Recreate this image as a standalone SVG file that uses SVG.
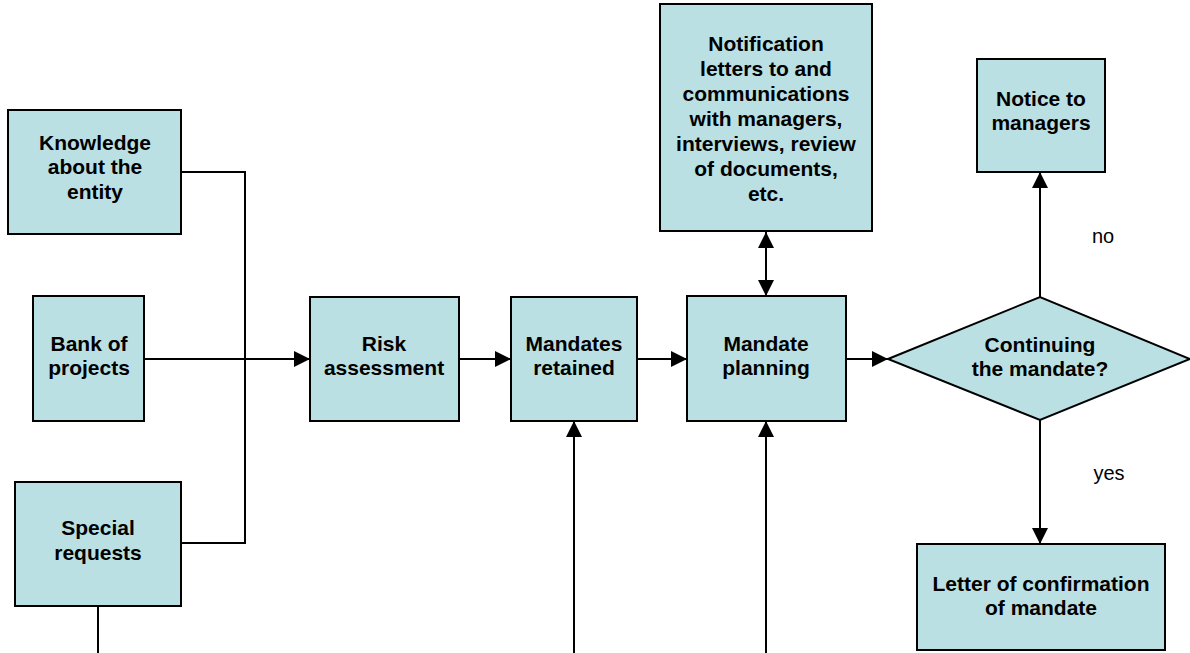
<svg xmlns="http://www.w3.org/2000/svg" width="1190" height="653" viewBox="0 0 1190 653">
<style>
.box{fill:#BBE0E3;stroke:#000;stroke-width:2}
.t{font-family:"Liberation Sans",Arial,sans-serif;font-weight:bold;font-size:21px;text-anchor:middle;fill:#000}
.l{font-family:"Liberation Sans",Arial,sans-serif;font-size:20px;text-anchor:middle;fill:#000}
.c{fill:none;stroke:#000;stroke-width:2}
</style>
<defs>
<marker id="ah" markerWidth="10" markerHeight="10" refX="9" refY="5" orient="auto" markerUnits="userSpaceOnUse" viewBox="0 0 10 10">
<path d="M0,0 L10,5 L0,10 z" fill="#000" transform="scale(1)"/>
</marker>
<marker id="ahb" markerWidth="16" markerHeight="16" refX="16" refY="8" orient="auto-start-reverse" markerUnits="userSpaceOnUse" viewBox="0 0 16 16">
<path d="M0,0 L16,8 L0,16 z" fill="#000"/>
</marker>
</defs>
<rect width="1190" height="653" fill="#fff"/>
<g id="connectors">
<polyline class="c" points="181,172 245,172 245,543 181,543"/>
<line class="c" x1="144" y1="359" x2="310" y2="359" marker-end="url(#ahb)"/>
<line class="c" x1="98" y1="606" x2="98" y2="653"/>
<line class="c" x1="459" y1="359" x2="511" y2="359" marker-end="url(#ahb)"/>
<line class="c" x1="637" y1="359" x2="687" y2="359" marker-end="url(#ahb)"/>
<line class="c" x1="846" y1="359" x2="888" y2="359" marker-end="url(#ahb)"/>
<line class="c" x1="766" y1="232" x2="766" y2="296" marker-start="url(#ahb)" marker-end="url(#ahb)"/>
<line class="c" x1="574" y1="653" x2="574" y2="421" marker-end="url(#ahb)"/>
<line class="c" x1="766" y1="653" x2="766" y2="421" marker-end="url(#ahb)"/>
<line class="c" x1="1040" y1="297" x2="1040" y2="172" marker-end="url(#ahb)"/>
<line class="c" x1="1040" y1="420" x2="1040" y2="544" marker-end="url(#ahb)"/>
<text class="l" x="1103" y="243">no</text>
<text class="l" x="1109" y="480">yes</text>
</g>
<g id="knowledge">
<rect class="box" x="8" y="110" width="173" height="124"/>
<text class="t" x="95" y="150">Knowledge</text>
<text class="t" x="95" y="174">about the</text>
<text class="t" x="95" y="199">entity</text>
</g>
<g id="bank">
<rect class="box" x="33" y="296" width="111" height="125"/>
<text class="t" x="89" y="351">Bank of</text>
<text class="t" x="89" y="375">projects</text>
</g>
<g id="special">
<rect class="box" x="15" y="482" width="166" height="124"/>
<text class="t" x="98" y="535">Special</text>
<text class="t" x="98" y="560">requests</text>
</g>
<g id="risk">
<rect class="box" x="310" y="297" width="149" height="124"/>
<text class="t" x="384" y="351">Risk</text>
<text class="t" x="384" y="375">assessment</text>
</g>
<g id="retained">
<rect class="box" x="511" y="297" width="126" height="124"/>
<text class="t" x="574" y="351">Mandates</text>
<text class="t" x="574" y="375">retained</text>
</g>
<g id="planning">
<rect class="box" x="687" y="296" width="159" height="125"/>
<text class="t" x="766" y="351">Mandate</text>
<text class="t" x="766" y="375">planning</text>
</g>
<g id="notification">
<rect class="box" x="660" y="4" width="212" height="227"/>
<text class="t" x="766" y="51">Notification</text>
<text class="t" x="766" y="76">letters to and</text>
<text class="t" x="766" y="101">communications</text>
<text class="t" x="766" y="126">with managers,</text>
<text class="t" x="766" y="151">interviews, review</text>
<text class="t" x="766" y="176">of documents,</text>
<text class="t" x="766" y="201">etc.</text>
</g>
<g id="decision">
<polygon class="box" points="888,359 1040,297 1190,359 1040,420"/>
<text class="t" x="1040" y="352">Continuing</text>
<text class="t" x="1040" y="376">the mandate?</text>
</g>
<g id="notice">
<rect class="box" x="977" y="59" width="128" height="113"/>
<text class="t" x="1041" y="106">Notice to</text>
<text class="t" x="1041" y="130">managers</text>
</g>
<g id="letter">
<rect class="box" x="917" y="544" width="248" height="106"/>
<text class="t" x="1041" y="591">Letter of confirmation</text>
<text class="t" x="1041" y="615">of mandate</text>
</g>
</svg>
